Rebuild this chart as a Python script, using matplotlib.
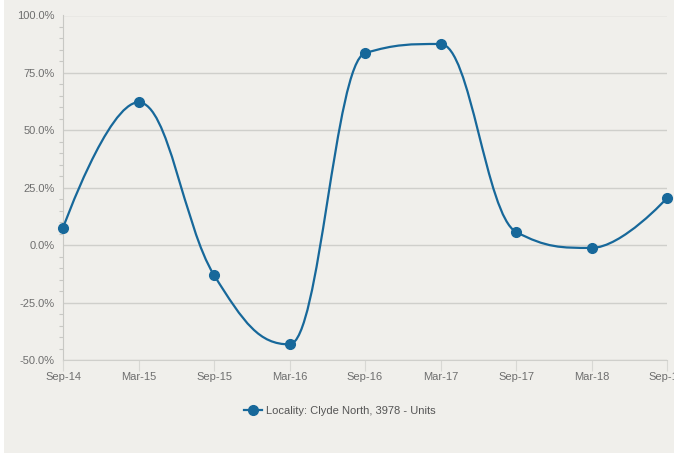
#!/usr/bin/env python

import numpy as np
import matplotlib as mpl
mpl.use("Agg")
import matplotlib.pyplot as plt
from matplotlib.path import Path
from matplotlib.patches import PathPatch, Rectangle
from matplotlib.lines import Line2D

# data
periods = ["Sep-14", "Mar-15", "Sep-15", "Mar-16", "Sep-16", "Mar-17", "Sep-17", "Mar-18", "Sep-18"]
growth = [7.5, 62.2, -13.0, -43.2, 83.6, 87.6, 5.8, -1.2, 20.5]
series_name = "Locality: Clyde North, 3978 - Units"
yticks = [-50, -25, 0, 25, 50, 75, 100]

blue = "#17689a"
bg = "#f0efeb"
txt = "#6e6e6e"

plt.rcParams['font.family'] = ['Liberation Sans', 'DejaVu Sans']

fig = plt.figure(figsize=(6.74, 4.54), dpi=100)
fig.patch.set_facecolor("white")
fig.patches.append(Rectangle((4/674, 1/454), 1.0, 1.0, transform=fig.transFigure,
                             facecolor=bg, edgecolor="none", zorder=-10))

ax = fig.add_axes([63/674, 1-360/454, (667-63)/674, (360-15.5)/454])
ax.set_facecolor(bg)
ax.patch.set_alpha(0)

xs = np.arange(len(growth), dtype=float)
ys = np.array(growth, dtype=float)

# spline control points (highcharts-like smoothing)
def ctrl(i):
    if i == 0 or i == len(xs)-1:
        return (xs[i], ys[i]), (xs[i], ys[i])
    sm, den = 1.5, 2.5
    px, py = xs[i], ys[i]
    lx, ly = xs[i-1], ys[i-1]
    nx, ny = xs[i+1], ys[i+1]
    lcx = (sm*px + lx)/den
    lcy = (sm*py + ly)/den
    rcx = (sm*px + nx)/den
    rcy = (sm*py + ny)/den
    corr = ((rcy - lcy)*(rcx - px))/(rcx - lcx) + py - rcy
    lcy += corr
    rcy += corr
    if lcy > max(ly, py):
        lcy = max(ly, py); rcy = 2*py - lcy
    elif lcy < min(ly, py):
        lcy = min(ly, py); rcy = 2*py - lcy
    if rcy > max(py, ny):
        rcy = max(py, ny); lcy = 2*py - rcy
    elif rcy < min(py, ny):
        rcy = min(py, ny); lcy = 2*py - rcy
    return (lcx, lcy), (rcx, rcy)

verts = [(xs[0], ys[0])]
codes = [Path.MOVETO]
for i in range(1, len(xs)):
    _, r = ctrl(i-1)
    l, _ = ctrl(i)
    verts += [r, l, (xs[i], ys[i])]
    codes += [Path.CURVE4]*3
ax.add_patch(PathPatch(Path(verts, codes), facecolor="none", edgecolor=blue,
                       lw=1.6, zorder=3, clip_on=False))
ax.plot(xs, ys, linestyle="none", marker="o", ms=7, color=blue, zorder=4, clip_on=False)

ax.set_xlim(0, 8)
ax.set_ylim(-50, 100)
ax.set_xticks(xs)
ax.set_xticklabels(periods)
ax.set_yticks(yticks)
ax.set_yticklabels(["%.1f%%" % v for v in yticks])
ax.set_yticks(np.arange(-50, 101, 5), minor=True)

ax.grid(axis="y", color="#cfcfcb", lw=1)
ax.set_axisbelow(True)
for s in ["top", "right"]:
    ax.spines[s].set_visible(False)
ax.spines["left"].set_color("#c8c8c4")
ax.spines["bottom"].set_color("#cfcfcb")
ax.tick_params(axis="y", which="major", length=0, labelsize=8, labelcolor=txt, pad=6)
ax.tick_params(axis="y", which="minor", length=3, color="#c8c8c4", width=0.8)
ax.tick_params(axis="x", length=8, color="#d8d8d4", labelsize=8, labelcolor=txt, pad=1)

handle = Line2D([], [], color=blue, lw=1.6, marker="o", ms=7)
fig.legend([handle], [series_name], loc="center", bbox_to_anchor=(340/674, 1-411/454),
           frameon=False, fontsize=8, labelcolor="#555555", handlelength=1.6, handletextpad=0.4)

fig.savefig("out.png", dpi=100, facecolor=fig.get_facecolor())
